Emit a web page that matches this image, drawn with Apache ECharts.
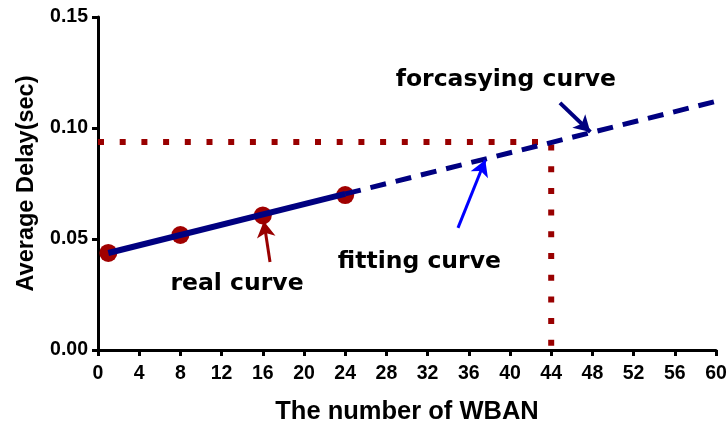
<!DOCTYPE html>
<html><head><meta charset="utf-8">
<script src="https://cdn.jsdelivr.net/npm/echarts@6/dist/echarts.min.js"></script>
<style>html,body{margin:0;padding:0;background:#fff}#c{width:728px;height:424px}</style>
</head><body><div id="c"></div>
<script>
// Data
var realX = [1, 8, 16, 24];
var realY = [0.0437, 0.0518, 0.0606, 0.0698];
var fitSolid = [[1, 0.0437], [24, 0.0703]];
var fitDashed = [[24, 0.0703], [60, 0.1120]];
var forecastX = 44;
var forecastY = 0.0937;
var xTicks = {min: 0, max: 60, interval: 4};
var yTicks = {min: 0, max: 0.15, interval: 0.05};
var notes = [
  {text: 'real curve', pos: [13.5, 0.0297]},
  {text: 'fitting curve', pos: [31.2, 0.0396]},
  {text: 'forcasying curve', pos: [39.6, 0.1215]}
];
var arrows = [
  {from: [16.7, 0.0396], to: [16.1, 0.0580], color: '#990000'},
  {from: [34.95, 0.0550], to: [37.6, 0.0856], color: '#0000ff'},
  {from: [44.85, 0.1113], to: [47.8, 0.0982], color: '#000080'}
];

var F = '"Liberation Sans", Arial, sans-serif';
var FN = '"DejaVu Sans", sans-serif';
var chart = echarts.init(document.getElementById('c'));
var realData = realX.map(function (x, i) { return [x, realY[i]]; });

chart.setOption({
  animation: false,
  grid: {left: 98, right: 12, top: 17, bottom: 74, containLabel: false, outerBoundsMode: 'none'},
  xAxis: {
    type: 'value', min: xTicks.min, max: xTicks.max, interval: xTicks.interval,
    name: 'The number of WBAN', nameLocation: 'middle', nameGap: 49,
    nameTextStyle: {fontFamily: F, fontWeight: 'bold', fontSize: 25.5, color: '#000'},
    axisLine: {onZero: false, lineStyle: {color: '#000', width: 3}},
    axisTick: {show: true, length: 6, lineStyle: {color: '#000', width: 3}},
    axisLabel: {fontFamily: F, fontWeight: 'bold', fontSize: 19.5, color: '#000', margin: 14},
    splitLine: {show: false}
  },
  yAxis: {
    type: 'value', min: yTicks.min, max: yTicks.max, interval: yTicks.interval,
    name: 'Average Delay(sec)', nameLocation: 'middle', nameGap: 59,
    nameTextStyle: {fontFamily: F, fontWeight: 'bold', fontSize: 23.5, color: '#000'},
    axisLine: {show: true, onZero: false, lineStyle: {color: '#000', width: 3}},
    axisTick: {show: true, length: 6, lineStyle: {color: '#000', width: 3}},
    axisLabel: {fontFamily: F, fontWeight: 'bold', fontSize: 19.5, color: '#000', margin: 10,
      formatter: function (v) { return v.toFixed(2); }},
    splitLine: {show: false}
  },
  series: [
    {
      type: 'line', data: [[xTicks.min, forecastY], [forecastX, forecastY], [forecastX, yTicks.min]],
      symbol: 'none', z: 1,
      lineStyle: {color: '#990000', width: 6, type: [6, 15.7]}
    },
    {
      type: 'scatter', data: realData, symbol: 'circle', symbolSize: 18, z: 2,
      itemStyle: {color: '#a00000', opacity: 1}
    },
    {
      type: 'line', data: fitSolid, symbol: 'none', z: 3,
      lineStyle: {color: '#000080', width: 6}
    },
    {
      type: 'line', data: fitDashed, symbol: 'none', z: 3,
      lineStyle: {color: '#000080', width: 5, type: [16, 10]}
    },
    {
      type: 'scatter', data: notes.map(function (n) { return {value: n.pos, name: n.text}; }),
      symbolSize: 0, z: 5, silent: true, itemStyle: {opacity: 1},
      label: {show: true, position: 'inside', formatter: '{b}', fontFamily: FN, fontWeight: 'bold',
        fontSize: 23.5, color: '#000', opacity: 1}
    },
    {
      type: 'line', data: [], symbol: 'none', z: 6,
      markLine: {
        silent: true, symbol: ['none', 'arrow'], symbolSize: [14, 16],
        label: {show: false},
        data: arrows.map(function (a) {
          return [{coord: a.from, lineStyle: {color: a.color, width: a.color === '#000080' ? 4 : 3, type: 'solid'},
                   itemStyle: {color: a.color}},
                  {coord: a.to}];
        })
      }
    }
  ]
});
</script></body></html>
